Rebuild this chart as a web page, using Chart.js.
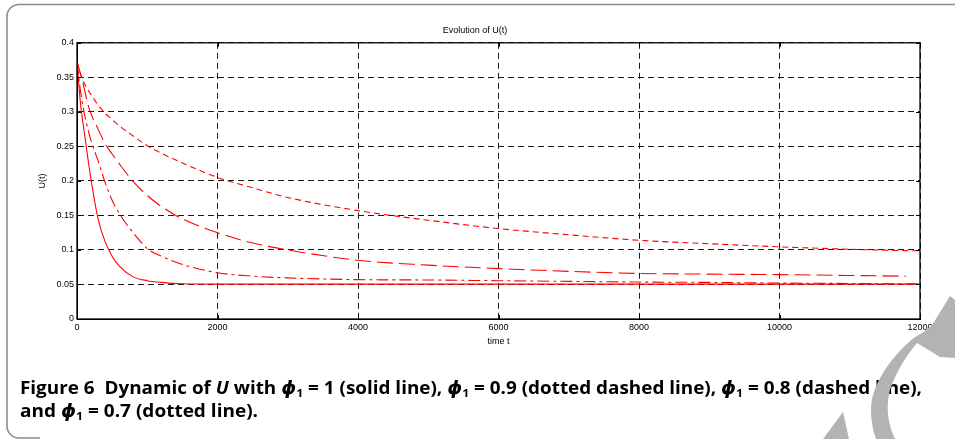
<!DOCTYPE html>
<html>
<head>
<meta charset="utf-8">
<script src="https://cdn.jsdelivr.net/npm/chart.js@4.4.1/dist/chart.umd.min.js"></script>
<style>
html, body { margin: 0; padding: 0; background: #fff; }
#wrap { position: relative; width: 955px; height: 439px; overflow: hidden; }
#myChart { position: absolute; left: 0; top: 0; }
#overlay { position: absolute; left: 0; top: 0; }
</style>
</head>
<body>
<div id="wrap">
<canvas id="myChart" width="955" height="360"></canvas>
<svg id="overlay" width="955" height="439" xmlns="http://www.w3.org/2000/svg">
  <path d="M955,4.5 L19,4.5 A12,12 0 0 0 7,16.5 L7,426 A12,12 0 0 0 19,438 L40,438" fill="none" stroke="#8c8c8c" stroke-width="1.6"/>
  <text x="20" y="394" font-family="Open Sans" font-weight="700" font-size="17" textLength="902" lengthAdjust="spacingAndGlyphs">Figure 6&#160; Dynamic of <tspan font-style="italic">U</tspan> with <tspan font-family="DejaVu Sans" font-style="italic">ϕ</tspan><tspan font-size="11" dy="3">1</tspan><tspan dy="-3"> = 1 (solid line), </tspan><tspan font-family="DejaVu Sans" font-style="italic">ϕ</tspan><tspan font-size="11" dy="3">1</tspan><tspan dy="-3"> = 0.9 (dotted dashed line), </tspan><tspan font-family="DejaVu Sans" font-style="italic">ϕ</tspan><tspan font-size="11" dy="3">1</tspan><tspan dy="-3"> = 0.8 (dashed line),</tspan></text>
  <text x="20" y="417" font-family="Open Sans" font-weight="700" font-size="17" textLength="238" lengthAdjust="spacingAndGlyphs">and <tspan font-family="DejaVu Sans" font-style="italic">ϕ</tspan><tspan font-size="11" dy="3">1</tspan><tspan dy="-3"> = 0.7 (dotted line).</tspan></text>
  <path d="M950,296 L955,300 L955,358 L940,357 L917,343 C906,356 896,372 890,390 C886,405 887,422 895,439 L876,439 C870,422 870,405 873,395 C879,375 895,353 915,337 C923,333 930,328 934,322 Z" fill="#b3b3b3"/>
  <path d="M843,412 L849,439 L823,439 Z" fill="#b3b3b3"/>
</svg>
</div>
<script>
// time points
const timeT = [0, 50, 100, 150, 200, 300, 400, 500, 600, 800, 1000, 1200, 1500, 2000, 2500, 3000, 4000, 5000, 6000, 7000, 8000, 9000, 10000, 11000, 11800, 12000];

// phi1 = 1 (solid)
const uPhi10 = [0.372, 0.312, 0.273, 0.236, 0.202, 0.145, 0.112, 0.091, 0.077, 0.061, 0.0555, 0.053, 0.051, 0.0505, 0.0505, 0.0505, 0.0505, 0.0505, 0.0505, 0.0505, 0.0505, 0.0505, 0.0505, 0.0505, 0.0505, 0.0505];
// phi1 = 0.9 (dotted dashed)
const uPhi09 = [0.372, 0.33, 0.30, 0.277, 0.258, 0.229, 0.198, 0.172, 0.153, 0.125, 0.102, 0.091, 0.079, 0.067, 0.062, 0.0595, 0.057, 0.0565, 0.0555, 0.0545, 0.0535, 0.053, 0.052, 0.0515, 0.051, 0.051];
// phi1 = 0.8 (dashed)
const uPhi08 = [0.372, 0.355, 0.335, 0.313, 0.297, 0.275, 0.254, 0.239, 0.225, 0.199, 0.179, 0.163, 0.145, 0.125, 0.11, 0.10, 0.085, 0.078, 0.073, 0.069, 0.066, 0.065, 0.0643, 0.063, 0.062, null];
// phi1 = 0.7 (dotted)
const uPhi07 = [0.372, 0.355, 0.342, 0.333, 0.325, 0.31, 0.298, 0.289, 0.28, 0.265, 0.251, 0.24, 0.226, 0.205, 0.19, 0.176, 0.157, 0.143, 0.131, 0.122, 0.114, 0.109, 0.1045, 0.101, 0.099, 0.0987];

const xTicks = [0, 2000, 4000, 6000, 8000, 10000, 12000];
const yTicks = [0, 0.05, 0.1, 0.15, 0.2, 0.25, 0.3, 0.35, 0.4];

function toPoints(values) {
    return timeT.map((t, i) => ({ x: t, y: values[i] }));
}

function lineSet(label, values, dash) {
    return {
        label: label,
        data: toPoints(values),
        borderColor: '#ff0000',
        borderWidth: 1.1,
        borderDash: dash,
        pointRadius: 0,
        fill: false,
        cubicInterpolationMode: 'monotone'
    };
}

// solid box with small inward ticks, like matlab's "box on"
const frameBox = {
    id: 'frameBox',
    afterDatasetsDraw(chart) {
        const { ctx, chartArea: a, scales } = chart;
        const len = 4;
        ctx.save();
        ctx.strokeStyle = '#000';
        ctx.lineWidth = 1;
        ctx.beginPath();
        xTicks.forEach(v => {
            const px = Math.round(scales.x.getPixelForValue(v)) + 0.5;
            ctx.moveTo(px, a.bottom); ctx.lineTo(px, a.bottom - len);
            ctx.moveTo(px, a.top); ctx.lineTo(px, a.top + len);
        });
        yTicks.forEach(v => {
            const py = Math.round(scales.y.getPixelForValue(v)) + 0.5;
            ctx.moveTo(a.left, py); ctx.lineTo(a.left + len, py);
            ctx.moveTo(a.right, py); ctx.lineTo(a.right - len, py);
        });
        ctx.stroke();
        ctx.lineWidth = 1.3;
        ctx.strokeRect(a.left, a.top, a.right - a.left, a.bottom - a.top);
        ctx.restore();
    }
};

const tickFont = { family: 'Liberation Sans', size: 9 };

var ctx = document.getElementById('myChart').getContext('2d');
var myChart = new Chart(ctx, {
    type: 'line',
    data: {
        datasets: [
            lineSet('phi1 = 1', uPhi10, []),
            lineSet('phi1 = 0.9', uPhi09, [12, 4, 3, 4]),
            lineSet('phi1 = 0.8', uPhi08, [16, 6]),
            lineSet('phi1 = 0.7', uPhi07, [6, 4])
        ]
    },
    options: {
        responsive: false,
        animation: false,
        layout: { padding: { left: 30, right: 35, top: 0, bottom: 6 } },
        plugins: {
            legend: { display: false },
            tooltip: { enabled: false },
            title: {
                display: true,
                text: 'Evolution of U(t)',
                color: '#000',
                font: { family: 'Liberation Sans', size: 9, weight: 'normal' },
                padding: { top: 25, bottom: 7 }
            }
        },
        scales: {
            x: {
                type: 'linear',
                min: 0,
                max: 12000,
                afterFit: (s) => { s.height = 35; },
                afterBuildTicks: (s) => { s.ticks = xTicks.map(v => ({ value: v })); },
                ticks: { color: '#000', font: tickFont, padding: 3, maxRotation: 0, callback: (v) => String(v) },
                grid: { color: '#1a1a1a', lineWidth: 1, drawTicks: false },
                border: { color: '#000', dash: [6, 4] },
                title: { display: true, text: 'time t', color: '#000', font: tickFont, padding: { top: 0, bottom: 6.6 } }
            },
            y: {
                min: 0,
                max: 0.4,
                afterFit: (s) => { s.width = 47; },
                afterBuildTicks: (s) => { s.ticks = yTicks.map(v => ({ value: v })); },
                ticks: { color: '#000', font: tickFont, padding: 3, callback: (v) => String(v) },
                grid: { color: '#1a1a1a', lineWidth: 1, drawTicks: false },
                border: { color: '#000', dash: [6, 4] },
                title: { display: true, text: 'U(t)', color: '#000', font: tickFont, padding: { top: 7, bottom: 0 } }
            }
        }
    },
    plugins: [frameBox]
});
</script>
</body>
</html>
